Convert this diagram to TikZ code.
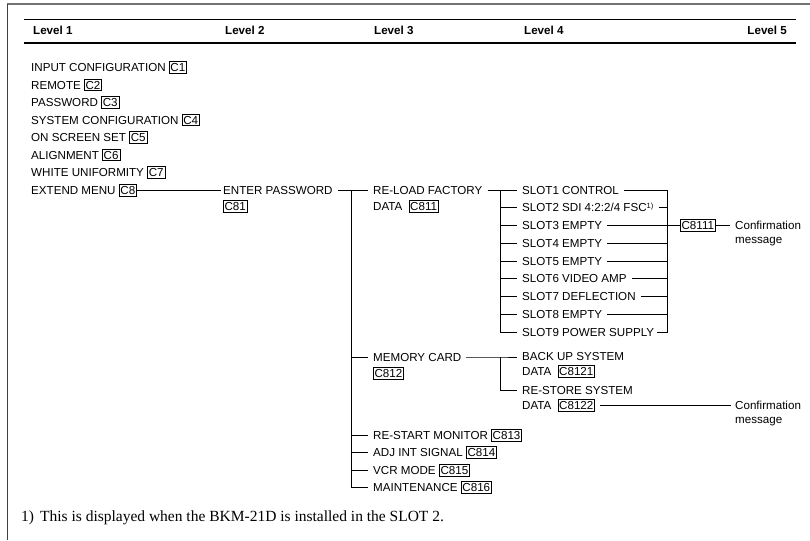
\documentclass[tikz,border=0pt]{standalone}
\usepackage{fontspec}
\setmainfont{Liberation Sans}
\newfontfamily\seriffont{Liberation Serif}
\begin{document}
\begin{tikzpicture}[x=1pt,y=-1pt,
  lbl/.style={inner sep=0pt, anchor=west, text height=8.4pt, text depth=0pt, font=\fontsize{11.6}{13}\selectfont},
  cbox/.style={draw, line width=0.6pt, inner xsep=1.3pt, inner ysep=1.6pt, anchor=west, text height=8.4pt, text depth=0pt, font=\fontsize{11.6}{13}\selectfont},
  hdr/.style={inner sep=0pt, text height=8.6pt, text depth=0pt, font=\fontsize{11.6}{13}\selectfont\bfseries},
  conf/.style={inner sep=0pt, align=left, anchor=north west, font=\fontsize{11.6}{14.5}\selectfont},
  conn/.style={line width=0.8pt}]
\useasboundingbox (0,0) rectangle (810,540);
% frame
\draw[black!55, line width=1.2pt] (810,4) -- (7,4);
\draw[black!75, line width=0.9pt] (7,4) -- (7,540);
% header
\draw[line width=0.8pt] (24,19) -- (796,19);
\draw[line width=2pt] (24,43) -- (796,43);
\node[hdr, anchor=west] (h1) at (33,30) {Level 1};
\node[hdr, anchor=west] (h2) at (225,30) {Level 2};
\node[hdr, anchor=west] (h3) at (374,30) {Level 3};
\node[hdr, anchor=west] (h4) at (524,30) {Level 4};
\node[hdr, anchor=east] (h5) at (787,30) {Level 5};
% level 1
\node[lbl] (l1) at (31,67.5) {INPUT CONFIGURATION};
\node[cbox] (b1) at ([xshift=3pt]l1.east) {C1};
\node[lbl] (l2) at (31,85) {REMOTE};
\node[cbox] (b2) at ([xshift=3pt]l2.east) {C2};
\node[lbl] (l3) at (31,102.5) {PASSWORD};
\node[cbox] (b3) at ([xshift=3pt]l3.east) {C3};
\node[lbl] (l4) at (31,120) {SYSTEM CONFIGURATION};
\node[cbox] (b4) at ([xshift=3pt]l4.east) {C4};
\node[lbl] (l5) at (31,137.5) {ON SCREEN SET};
\node[cbox] (b5) at ([xshift=3pt]l5.east) {C5};
\node[lbl] (l6) at (31,155) {ALIGNMENT};
\node[cbox] (b6) at ([xshift=3pt]l6.east) {C6};
\node[lbl] (l7) at (31,172.5) {WHITE UNIFORMITY};
\node[cbox] (b7) at ([xshift=3pt]l7.east) {C7};
\node[lbl] (l8) at (31,190) {EXTEND MENU};
\node[cbox] (b8) at ([xshift=3pt]l8.east) {C8};
% level 2
\node[lbl] (enter) at (223,190) {ENTER PASSWORD};
\node[cbox] (b81) at (223,206.5) {C81};
\draw[conn] (b8.east) -- ([xshift=-2pt]enter.west);
% level 3
\coordinate (t3) at (351,190);
\node[lbl] (reload) at (373,190) {RE-LOAD FACTORY};
\node[lbl] (reload2) at (373,206.5) {DATA};
\node[cbox] (b811) at ([xshift=6pt]reload2.east) {C811};
\node[lbl] (mem) at (373,357) {MEMORY CARD};
\node[cbox] (b812) at (373,373.5) {C812};
\node[lbl] (restart) at (373,435) {RE-START MONITOR};
\node[cbox] (b813) at ([xshift=3pt]restart.east) {C813};
\node[lbl] (adj) at (373,452.5) {ADJ INT SIGNAL};
\node[cbox] (b814) at ([xshift=3pt]adj.east) {C814};
\node[lbl] (vcr) at (373,470) {VCR MODE};
\node[cbox] (b815) at ([xshift=3pt]vcr.east) {C815};
\node[lbl] (maint) at (373,487.5) {MAINTENANCE};
\node[cbox] (b816) at ([xshift=3pt]maint.east) {C816};
\draw[conn] ([xshift=5pt]enter.east) -- ([xshift=-5pt]reload.west);
\draw[conn] (t3) -- (maint.west -| t3) -- ([xshift=-5pt]maint.west);
\foreach \n in {mem,restart,adj,vcr}{\draw[conn] (\n.west -| t3) -- ([xshift=-5pt]\n.west);}
% level 4 slots
\coordinate (t4) at (500,190);
\coordinate (br) at (667,190);
\node[lbl] (s1) at (522,190) {SLOT1 CONTROL};
\node[lbl] (s2) at (522,207.75) {SLOT2 SDI 4:2:2/4 FSC\raisebox{3.5pt}{\fontsize{7.5}{8}\selectfont 1)}};
\node[lbl] (s3) at (522,225.5) {SLOT3 EMPTY};
\node[lbl] (s4) at (522,243.25) {SLOT4 EMPTY};
\node[lbl] (s5) at (522,261) {SLOT5 EMPTY};
\node[lbl] (s6) at (522,278.75) {SLOT6 VIDEO AMP};
\node[lbl] (s7) at (522,296.5) {SLOT7 DEFLECTION};
\node[lbl] (s8) at (522,314.25) {SLOT8 EMPTY};
\node[lbl] (s9) at (522,332) {SLOT9 POWER SUPPLY};
\draw[conn] ([xshift=5pt]reload.east) -- ([xshift=-5pt]s1.west);
\draw[conn] (t4) -- (s9.west -| t4) -- ([xshift=-5pt]s9.west);
\foreach \n in {s2,s3,s4,s5,s6,s7,s8}{\draw[conn] (\n.west -| t4) -- ([xshift=-5pt]\n.west);}
\draw[conn] ([xshift=5pt]s1.east) -- (br) -- (s9.east -| br) -- ([xshift=3pt]s9.east);
\foreach \n in {s2,s3,s4,s5,s6,s7,s8}{\draw[conn] ([xshift=5pt]\n.east) -- (\n.east -| br);}
\node[cbox] (b8111) at (680,225.5) {C8111};
\draw[conn] (s3.east -| br) -- (b8111.west);
\node[conf] (conf1) at (735,220.5) {Confirmation\\message};
\draw[conn] (b8111.east) -- ([xshift=-5pt]b8111.east -| conf1.west);
% memory card sub
\node[lbl] (backup) at (522,356) {BACK UP SYSTEM};
\node[lbl] (backup2) at (522,371.5) {DATA};
\node[cbox] (b8121) at ([xshift=6pt]backup2.east) {C8121};
\node[lbl] (restore) at (522,390) {RE-STORE SYSTEM};
\node[lbl] (restore2) at (522,405.5) {DATA};
\node[cbox] (b8122) at ([xshift=6pt]restore2.east) {C8122};
\coordinate (t4m) at (500,357);
\draw[conn] ([xshift=5pt]mem.east) -- (t4m) -- ([xshift=-5pt]backup.west |- t4m);
\draw[conn] (t4m) -- (restore.west -| t4m) -- ([xshift=-5pt]restore.west);
\node[conf] (conf2) at (735,400.5) {Confirmation\\message};
\draw[conn] ([xshift=5pt]b8122.east) -- ([xshift=-4pt]b8122.east -| conf2.west);
% footnote
\node[inner sep=0pt, anchor=west, font=\seriffont\fontsize{15.5}{18}\selectfont] (fn) at (21,518) {1)\hspace{6pt}This is displayed when the BKM-21D is installed in the SLOT 2.};
\end{tikzpicture}
\end{document}
